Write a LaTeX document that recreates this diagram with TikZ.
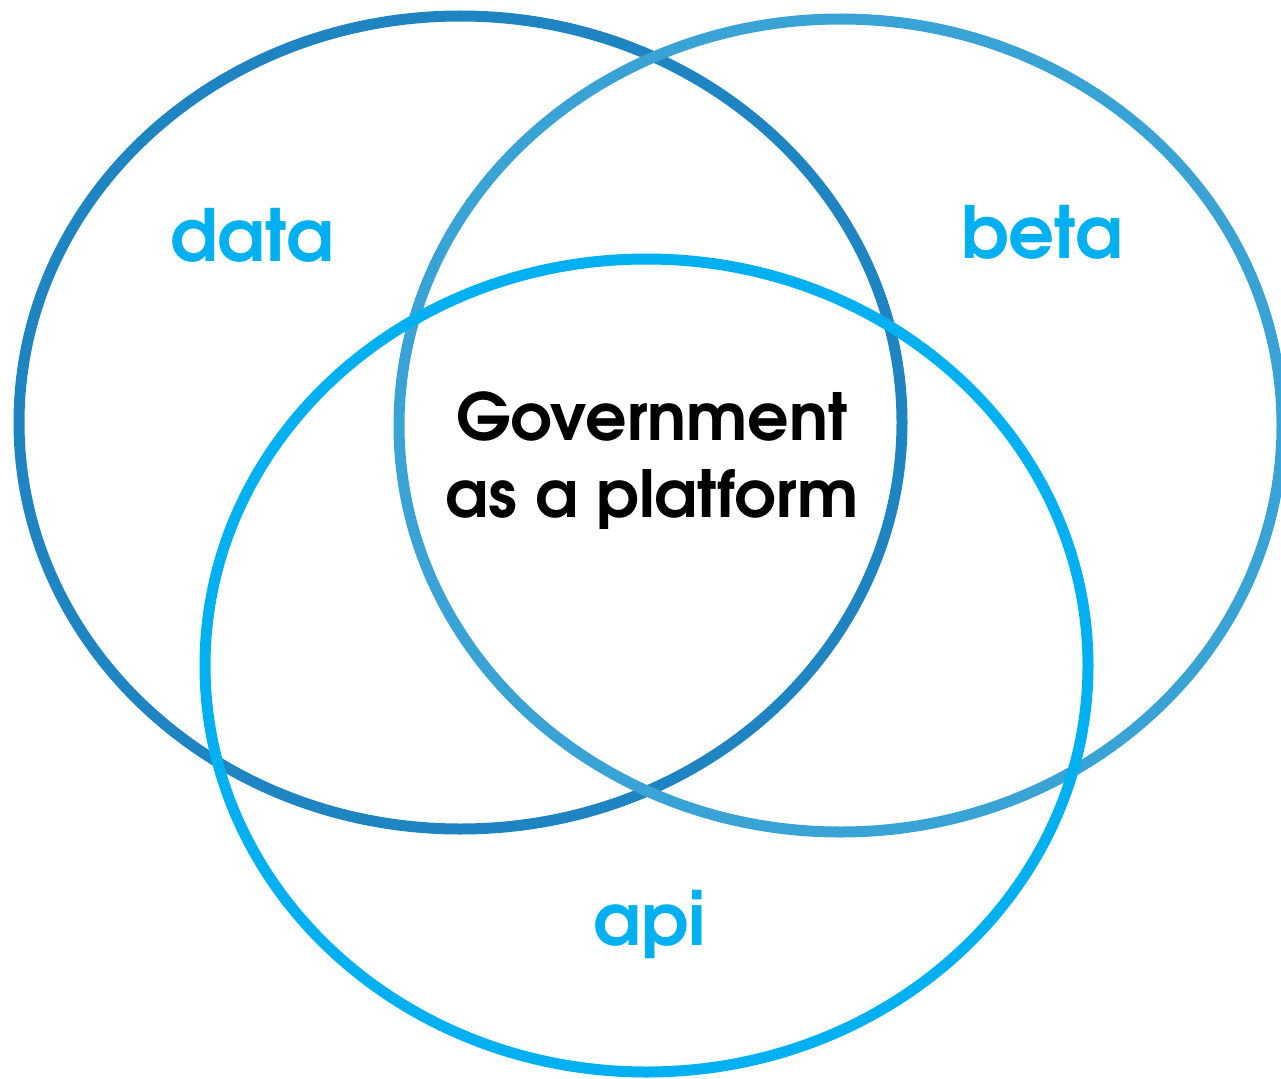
\documentclass[tikz,border=0pt]{standalone}
\usepackage{fontspec}
\setmainfont{texgyreadventor}[Extension=.otf, UprightFont=*-regular, BoldFont=*-bold]
\definecolor{cdata}{HTML}{1F84C2}
\definecolor{cbeta}{HTML}{3AA3D5}
\definecolor{capi}{HTML}{00B0F0}
\definecolor{clabel}{HTML}{00B0F0}
\tikzset{
  ring/.style={line width=11pt},
  setlabel/.style={text=clabel, font=\bfseries\fontsize{72}{80}\selectfont, inner sep=0pt},
  centerlabel/.style={text=black, font=\bfseries\fontsize{65}{77}\selectfont, align=center, inner sep=0pt}
}
\begin{document}
\begin{tikzpicture}[x=1pt,y=-1pt]
\useasboundingbox (0,0) rectangle (1281,1078);
\draw[ring, cdata] (460.5,422.5) ellipse [x radius=441.5pt, y radius=406.5pt];
\draw[ring, cbeta] (840.5,425.5) ellipse [x radius=441.5pt, y radius=406.5pt];
\draw[ring, capi] (646.5,665.5) ellipse [x radius=441.5pt, y radius=406.5pt];
\node[setlabel] (datalabel) at (252,235) {data};
\node[setlabel] (betalabel) at (1042,232) {beta};
\node[setlabel] (apilabel) at (650,925) {api};
\node[centerlabel] (gaap) at (652,461) {Government\\as a platform};
\end{tikzpicture}
\end{document}
